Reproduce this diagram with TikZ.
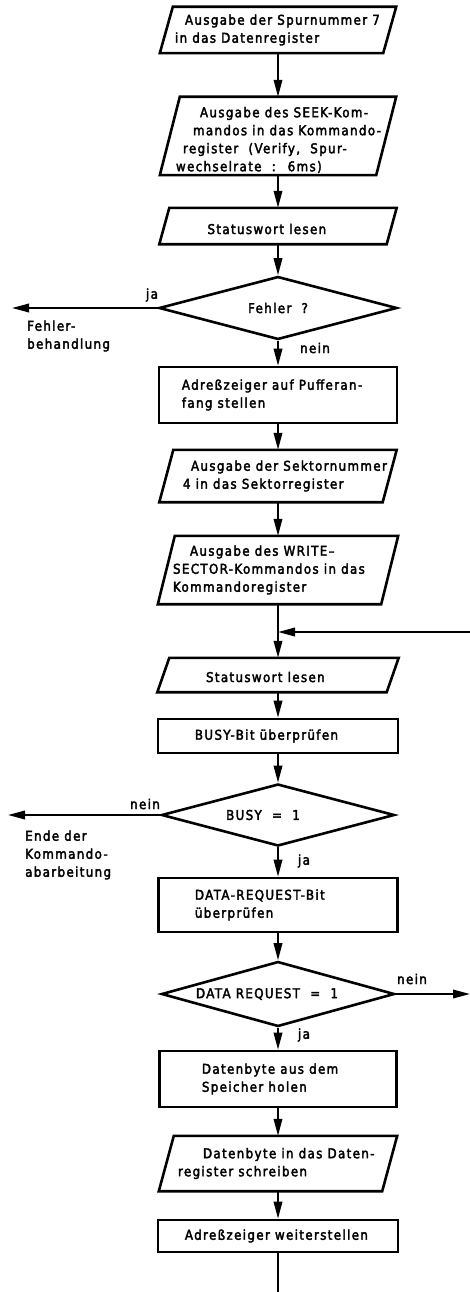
\documentclass[tikz,border=0pt]{standalone}
\usepackage{fontspec}
\setmainfont{DejaVu Sans}[FakeStretch=0.88,LetterSpace=10,FakeBold=2.6]
\usetikzlibrary{arrows.meta,shapes.geometric,calc}
\newcommand\mypara[2]{\draw[shapeline] ($(#1.north west)+(#2,0)$) -- (#1.north east) -- ($(#1.south east)+(-#2,0)$) -- (#1.south west) -- cycle;}
\begin{document}
\begin{tikzpicture}[x=1pt,y=-1pt,
 txtfont/.style={font=\fontsize{13.5}{18}\selectfont},
 shapeline/.style={line width=2.6pt, line join=miter},
 pshape/.style={rectangle, inner sep=0pt, draw=none},
 rshape/.style={rectangle, inner sep=0pt, draw, shapeline},
 dshape/.style={diamond, aspect=4, inner sep=0pt, draw, shapeline, txtfont},
 intext/.style={anchor=west, align=left, inner sep=0pt, txtfont},
 lbl/.style={inner sep=0pt, txtfont},
 conn/.style={line width=1.9pt, -{Triangle[length=17pt,width=8.5pt]}},
 plain/.style={line width=1.9pt},
]
\useasboundingbox (0,0) rectangle (470,1292);

\node[pshape, minimum width=236pt, minimum height=46pt,
  label={[intext, xshift=15pt]west:{\hspace*{10pt}Ausgabe der Spurnummer 7\\in das Datenregister}}] (p1) at (278,30) {};
\node[pshape, minimum width=236pt, minimum height=78pt,
  label={[intext, xshift=16pt, yshift=-4pt]west:{\hspace*{24pt}Ausgabe des SEEK-Kom-\\\hspace*{17pt}mandos in das Kommando-\\\hspace*{7pt}register~ (Verify,~ Spur-\\wechselrate~ :~ 6ms)}}] (p2) at (278,136) {};
\node[pshape, minimum width=237pt, minimum height=36pt,
  label={[intext, xshift=48pt, yshift=-3pt]west:{Statuswort lesen}}] (p3) at (278,226) {};
\node[dshape, minimum width=238pt, minimum height=63pt] (d1) at (278,308) {Fehler~ ?};
\node[rshape, minimum width=238pt, minimum height=56pt,
  label={[intext, xshift=24pt]west:{Adreßzeiger auf Pufferan-\\fang stellen}}] (r1) at (278,395) {};
\node[pshape, minimum width=237pt, minimum height=52pt,
  label={[intext, xshift=23.5pt]west:{\hspace*{8pt}Ausgabe der Sektornummer\\4 in das Sektorregister}}] (p4) at (278,476) {};
\node[pshape, minimum width=240pt, minimum height=68pt,
  label={[intext, xshift=15pt]west:{\hspace*{17pt}Ausgabe des WRITE--\\SECTOR-Kommandos in das\\Kommandoregister}}] (p5) at (278,570) {};
\coordinate (j) at (278,632);
\coordinate (jr) at (470,632);
\node[pshape, minimum width=241pt, minimum height=34pt,
  label={[intext, xshift=48.5pt, yshift=-2pt]west:{Statuswort lesen}}] (p6) at (278,675) {};
\node[rshape, minimum width=240pt, minimum height=34pt,
  label={[intext, xshift=38pt]west:{BUSY-Bit überprüfen}}] (r2) at (278,736) {};
\node[dshape, minimum width=233pt, minimum height=62pt] (d2) at (278,815) {\hspace*{-30pt}BUSY~ =~ 1};
\node[rshape, minimum width=239pt, minimum height=54pt,
  label={[intext, xshift=37.5pt]west:{DATA-REQUEST-Bit\\überprüfen}}] (r3) at (278,905) {};
\node[dshape, minimum width=233pt, minimum height=65pt] (d3) at (278,994) {\hspace*{-22pt}DATA REQUEST~ =~ 1};
\node[rshape, minimum width=237pt, minimum height=56pt,
  label={[intext, xshift=43.5pt]west:{Datenbyte aus dem\\Speicher holen}}] (r4) at (278,1079) {};
\node[pshape, minimum width=238pt, minimum height=55pt,
  label={[intext, xshift=19pt]west:{\hspace*{25pt}Datenbyte in das Daten-\\register schreiben}}] (p7) at (278,1163.5) {};
\node[rshape, minimum width=240pt, minimum height=32pt,
  label={[intext, xshift=28pt]west:{Adreßzeiger weiterstellen}}] (r5) at (278,1236) {};
\coordinate (end) at (278,1292);

\mypara{p1}{13}
\mypara{p2}{20}
\mypara{p3}{10}
\mypara{p4}{14}
\mypara{p5}{17}
\mypara{p6}{12}
\mypara{p7}{15}

% side labels and exits
\node[lbl] (ja1) at (152,295) {ja};
\node[lbl] (nein1) at (315,348) {nein};
\node[lbl, anchor=west, align=left] (fb) at (27,336) {Fehler-\\behandlung};
\coordinate (e1) at (12,308);
\node[lbl] (nein2) at (145,804) {nein};
\node[lbl] (ja2) at (304,861) {ja};
\node[lbl, anchor=west, align=left] (ende) at (25,855) {Ende der\\Kommando-\\abarbeitung};
\coordinate (e2) at (8,815);
\node[lbl] (nein3) at (412,979) {nein};
\node[lbl] (ja3) at (304,1035) {ja};
\coordinate (e3) at (470,994);

% connectors
\draw[conn] (p1.south) -- (p2.north);
\draw[conn] (p2.south) -- (p3.north);
\draw[conn] (p3.south) -- (d1.north);
\draw[conn] (d1.south) -- (r1.north);
\draw[conn] (d1.west) -- (e1);
\draw[conn] (r1.south) -- (p4.north);
\draw[conn] (p4.south) -- (p5.north);
\draw[conn] (p5.south) -- (p6.north);
\draw[conn] (jr) -- (j);
\draw[conn] (p6.south) -- (r2.north);
\draw[conn] (r2.south) -- (d2.north);
\draw[conn] (d2.west) -- (e2);
\draw[conn] (d2.south) -- (r3.north);
\draw[conn] (r3.south) -- (d3.north);
\draw[conn] (d3.east) -- (e3);
\draw[conn] (d3.south) -- (r4.north);
\draw[conn] (r4.south) -- (p7.north);
\draw[conn] (p7.south) -- (r5.north);
\draw[plain] (r5.south) -- (end);
\end{tikzpicture}
\end{document}
